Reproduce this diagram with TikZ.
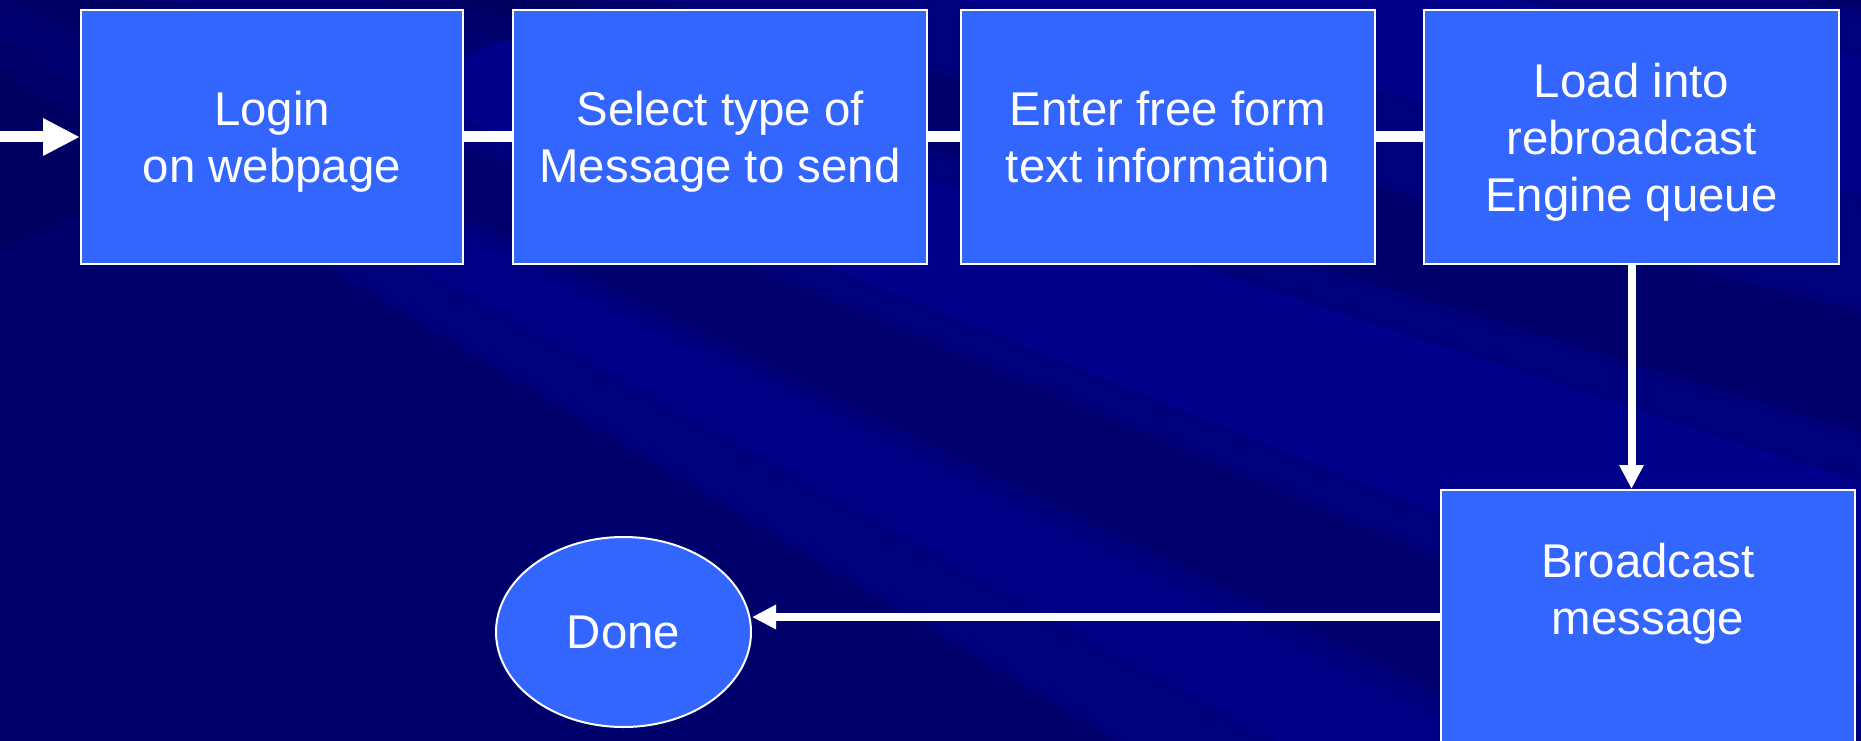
\documentclass[tikz,border=0pt]{standalone}
\usepackage{fontspec}
\setmainfont{Liberation Sans}
\usetikzlibrary{positioning,arrows.meta,shapes.geometric}

\definecolor{slide}{RGB}{0,0,122}
\definecolor{slidedark}{RGB}{0,0,80}
\definecolor{slidelight}{RGB}{0,0,170}
\definecolor{boxblue}{RGB}{51,102,255}

\begin{document}
\begin{tikzpicture}[x=1pt, y=-1pt,
		stepbox/.style={rectangle, draw=white, line width=2pt, fill=boxblue, text=white,
			align=center, minimum width=414pt, minimum height=254pt, text depth=-2pt,
			font=\fontsize{47.4}{57}\selectfont},
		endblob/.style={ellipse, draw=white, line width=2pt, fill=boxblue, text=white,
			minimum width=255pt, minimum height=190pt, text depth=-22pt,
			font=\fontsize{47.4}{57}\selectfont},
		link/.style={draw=white, line width=11pt},
		feed/.style={draw=white, line width=11pt, -{Triangle[length=37pt,width=35pt]}},
		flow/.style={draw=white, line width=8pt, -{Triangle[length=24pt,width=23pt]}}]

			% slide background
			\fill[slide] (0,0) rectangle (1861,741);
			\useasboundingbox (0,0) rectangle (1861,741);
			\begin{scope}
				\clip (0,0) rectangle (1861,741);
				\coordinate (fan) at (-700,-350);
				\fill[slidedark, opacity=.35] (fan) -- +(4:4000) -- +(8:4000) -- cycle;
				\fill[slidelight, opacity=.3] (fan) -- +(9:4000) -- +(12:4000) -- cycle;
				\fill[slidedark, opacity=.3] (fan) -- +(14.5:4000) -- +(17:4000) -- cycle;
				\fill[slidelight, opacity=.35] (fan) -- +(18:4000) -- +(22:4000) -- cycle;
				\fill[slidedark, opacity=.25] (fan) -- +(23:4000) -- +(26:4000) -- cycle;
				\fill[slidelight, opacity=.25] (fan) -- +(26.5:4000) -- +(29:4000) -- cycle;
				\fill[slidedark, opacity=.3] (fan) -- +(31:4000) -- +(60:4000) -- cycle;
				\fill[slidedark, opacity=.35] (0,0) -- (600,0) -- (0,250) -- cycle;
			\end{scope}

			\node[stepbox, minimum width=382pt] (login) at (272,137) {Login\\ on webpage};
			\node[stepbox] (select)[right=48pt of login] {Select type of\\Message to send};
			\node[stepbox] (enter)[right=32pt of select] {Enter free form\\text information};
			\node[stepbox, minimum width=415pt] (load)[right=47pt of enter] {Load into\\rebroadcast\\Engine queue};
			\node[stepbox, anchor=north, minimum height=0pt, inner ysep=53pt, text depth=100pt] (bcast) at (1648,489) {Broadcast\\message};
			\node[endblob] (done) at (623.5,632) {Done};

			\coordinate (entry) at (0,137);
			\coordinate (tap) at ([yshift=-128pt]bcast.north west);

			\path
				(login) edge[link] (select)
				(select) edge[link] (enter)
				(enter) edge[link] (load)
				(entry) edge[feed] (login)
				(load.south) edge[flow] (load.south |- bcast.north)
				(tap) edge[flow] (done.east |- tap)
			;
		\end{tikzpicture}
\end{document}
